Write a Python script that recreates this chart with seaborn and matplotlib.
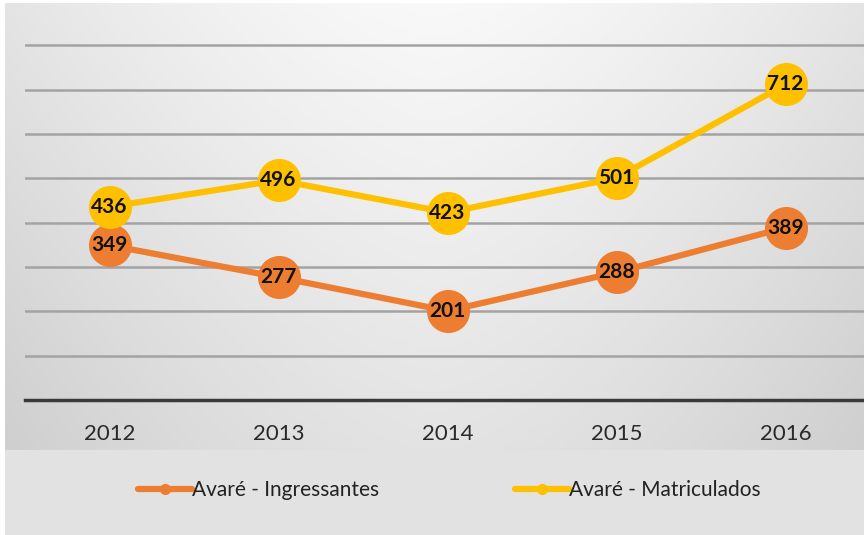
import numpy as np
import pandas as pd
import matplotlib.pyplot as plt
import seaborn as sns

anos = ['2012', '2013', '2014', '2015', '2016']
ingressantes = [349, 277, 201, 288, 389]
matriculados = [436, 496, 423, 501, 712]
series = ['Avaré - Ingressantes', 'Avaré - Matriculados']
cores = ['#ED7D31', '#FFC000']

df = pd.DataFrame({
    'ano': anos * 2,
    'valor': ingressantes + matriculados,
    'serie': [series[0]] * 5 + [series[1]] * 5,
})

sns.set_style('white')
plt.rcParams['font.family'] = ['Lato', 'DejaVu Sans']

fig = plt.figure(figsize=(8.64, 5.35), dpi=100)
fig.patch.set_facecolor('white')

# gradient background of the chart frame
bg = fig.add_axes([5 / 864, 0, 1 - 5 / 864, 1 - 3 / 535], zorder=-10)
yy, xx = np.mgrid[0:1:300j, 0:1:300j]
shade = 0.975 - 0.10 * yy - 0.08 * (np.abs(xx - 0.5) * 2) ** 1.5
shade = np.clip(shade, 0.8, 1)
bg.imshow(np.dstack([shade] * 3), aspect='auto', extent=[0, 1, 1, 0])
bg.add_patch(plt.Rectangle((0, 1 - 85 / 532), 1, 85 / 532, color='#e2e2e2', zorder=2))
bg.set_xlim(0, 1)
bg.set_ylim(1, 0)
bg.axis('off')

ax = fig.add_axes([25 / 864, 1 - 400 / 535, 845 / 864, 390 / 535])
ax.set_facecolor('none')

sns.lineplot(data=df, x='ano', y='valor', hue='serie', palette=cores,
             marker='o', markersize=31, linewidth=4.5, markeredgewidth=0,
             sort=False, ax=ax, legend=False, zorder=3)

for vals in (ingressantes, matriculados):
    for i, v in enumerate(vals):
        ax.text(i, v, str(v), ha='center', va='center', fontsize=15,
                fontweight='bold', color='#111111', zorder=5)

ax.set_xlim(-0.5, 4.5)
ax.set_ylim(0, 880)
ax.set_yticks(range(100, 900, 100))
ax.yaxis.grid(True, color='#a3a3a3', linewidth=1.8, zorder=0)
ax.set_axisbelow(True)
ax.tick_params(axis='y', left=False, labelleft=False)
ax.tick_params(axis='x', bottom=False, labelsize=16, colors='#2a2a2a', pad=14)
ax.set_xlabel('')
ax.set_ylabel('')
for s in ['top', 'left', 'right']:
    ax.spines[s].set_visible(False)
ax.spines['bottom'].set_color('#3a3a3a')
ax.spines['bottom'].set_linewidth(2.5)

handles = [plt.Line2D([], [], color=c, linewidth=4.5, marker='o', markersize=7) for c in cores]
fig.legend(handles, series, loc='center', bbox_to_anchor=(0.52, 1 - 490 / 535),
           ncol=2, frameon=False, fontsize=15, handlelength=2.6, handletextpad=0.0,
           columnspacing=6.5, labelcolor='#222222')

fig.savefig('out.png', dpi=100)
